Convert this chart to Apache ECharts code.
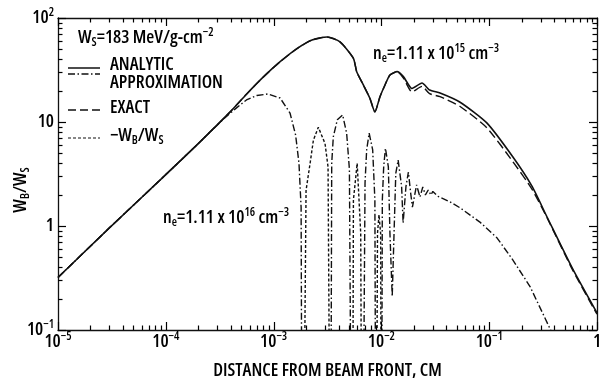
<!DOCTYPE html>
<html><head><meta charset="utf-8">
<script src="https://cdn.jsdelivr.net/npm/echarts@6/dist/echarts.min.js"></script>
<style>html,body{margin:0;padding:0;background:#fff}#c{width:602px;height:385px}</style>
</head><body><div id="c"></div>
<script>
// ---- tick labels ----
const xTickValues = [1e-5, 1e-4, 1e-3, 1e-2, 1e-1, 1];
const xTickLabels = ['{b|10}{s|−5}', '{b|10}{s|−4}', '{b|10}{s|−3}', '{b|10}{s|−2}', '{b|10}{s|−1}', '{b|1}'];
const yTickValues = [0.1, 1, 10, 100];
const yTickLabels = ['{b|10}{s|−1}', '{b|1}', '{b|10}', '{b|10}{s|2}'];

// ---- n_e = 1.11e15 : analytic approximation (solid) ----
const xAnalytic15 = [1e-5, 3e-5, 1e-4, 2e-4, 3.95e-4, 5.6e-4, 8e-4, 1.15e-3, 1.66e-3, 2.27e-3, 3.13e-3, 4.13e-3, 5.5e-3, 5.9e-3, 6.8e-3, 7.8e-3, 8.7e-3, 9.7e-3, 1.08e-2, 1.2e-2, 1.4e-2, 1.6e-2, 1.92e-2, 2.38e-2, 2.8e-2, 3.5e-2, 5.37e-2, 9.5e-2, 0.166, 0.25, 0.344, 0.6, 1];
const yAnalytic15 = [0.32, 0.96, 3.12, 6.2, 12.5, 18.5, 27, 38, 51, 61.4, 65.6, 59, 41, 30.4, 22.7, 17, 12.5, 17.5, 22.7, 28.3, 30.5, 27.3, 21, 23.7, 20.3, 19, 15.5, 9.8, 4.6, 2.4, 1.22, 0.38, 0.146];

// ---- n_e = 1.11e15 : exact (long dash) ----
const xExact15 = [1e-5, 3e-5, 1e-4, 2e-4, 3.95e-4, 5.6e-4, 8e-4, 1.15e-3, 1.66e-3, 2.27e-3, 3.13e-3, 4.13e-3, 5.5e-3, 5.9e-3, 6.8e-3, 7.8e-3, 8.7e-3, 9.7e-3, 1.08e-2, 1.2e-2, 1.4e-2, 1.6e-2, 1.92e-2, 2.38e-2, 2.8e-2, 3.5e-2, 5.37e-2, 9.5e-2, 0.166, 0.25, 0.344, 0.6, 1];
const yExact15 = [0.32, 0.96, 3.12, 6.2, 12.5, 18.5, 27, 38, 51, 61.4, 65.6, 59, 41, 30.4, 22.7, 17, 12.5, 17.5, 22.7, 28.3, 30.5, 26.5, 19.5, 22, 18.7, 17.5, 14.1, 8.8, 4.15, 2.25, 1.2, 0.37, 0.142];

// ---- n_e = 1.11e16 : analytic approximation, positive lobes (dash-dot) ----
const xPos16 = [1e-5, 3e-5, 1e-4, 2e-4, 3.5e-4, 4.5e-4, 5.6e-4, 7e-4, 8.9e-4, 1.15e-3, 1.42e-3, 1.6e-3, 1.72e-3, 1.8e-3, 1.84e-3,
  2.5e-3,
  3.38e-3, 3.46e-3, 3.58e-3, 3.9e-3, 4.37e-3, 4.76e-3, 5.05e-3, 5.3e-3,
  6e-3,
  6.7e-3, 7.05e-3, 7.3e-3, 7.7e-3, 8.3e-3, 8.7e-3, 8.9e-3,
  9.5e-3,
  1.0e-2, 1.02e-2, 1.05e-2, 1.09e-2, 1.16e-2, 1.2e-2, 1.26e-2, 1.31e-2, 1.36e-2, 1.43e-2, 1.54e-2, 1.59e-2, 1.69e-2, 1.78e-2, 1.87e-2, 1.94e-2, 2.12e-2, 2.28e-2, 2.42e-2, 2.56e-2, 2.72e-2, 2.88e-2, 3.0e-2, 3.35e-2, 4.36e-2, 5.4e-2, 8.2e-2, 0.118, 0.166, 0.24, 0.38, 0.5];
const yPos16 = [0.32, 0.96, 3.12, 6.2, 10.9, 13.6, 16.3, 18, 18.6, 17, 12.2, 7.5, 4.0, 1.5, 0.001,
  null,
  0.001, 4.0, 7.2, 10.5, 11.7, 7.8, 3.5, 0.001,
  null,
  0.001, 2.6, 5.4, 7.8, 5.4, 1.78, 0.001,
  null,
  0.001, 1.78, 3.7, 5.6, 3.7, 0.85, 0.21, 0.85, 3.2, 4.3, 2.4, 1.07, 2.4, 3.3, 2.06, 1.52, 2.48, 1.9, 2.37, 1.99, 2.22, 1.99, 2.15, 1.93, 1.7, 1.49, 1.09, 0.77, 0.47, 0.26, 0.095, 0.04];

// ---- n_e = 1.11e16 : -W_B/W_S, negative lobes (short dash) ----
const xNeg16 = [1.88e-3, 2.0e-3, 2.18e-3, 2.34e-3, 2.6e-3, 3.0e-3, 3.2e-3, 3.36e-3,
  4.5e-3,
  5.4e-3, 5.5e-3, 5.96e-3, 6.43e-3, 6.6e-3,
  8e-3,
  8.95e-3, 9.2e-3, 9.5e-3, 9.84e-3, 1.0e-2];
const yNeg16 = [0.001, 2.2, 4.0, 6.7, 8.9, 6.2, 3.7, 0.001,
  null,
  0.001, 1.78, 4.0, 0.85, 0.001,
  null,
  0.001, 0.85, 1.28, 0.85, 0.001];

function zip(xs, ys) { return xs.map((x, i) => [x, ys[i]]); }

const FW = '600';
// pick the most condensed installed face (reference uses a condensed grotesque)
function pickFont() {
  const ctx = document.createElement('canvas').getContext('2d');
  const cands = [
    { style: 'normal', family: "'Liberation Sans Narrow'" },
    { style: 'normal', family: "'DejaVu Sans Condensed'" },
    { style: 'condensed', family: "'DejaVu Sans'" },
    { style: 'condensed', family: "'Open Sans'" },
    { style: 'condensed', family: "'Noto Sans'" },
    { style: 'condensed', family: "Roboto" },
    { style: 'normal', family: "'Liberation Sans'" }
  ];
  let best = null;
  for (const cd of cands) {
    ctx.font = '10px monospace';
    ctx.font = cd.style + ' ' + FW + ' 100px ' + cd.family;
    if (ctx.font.indexOf('monospace') >= 0) continue;
    const w = ctx.measureText('APPROXIMATION').width;
    const capH = ctx.measureText('H').actualBoundingBoxAscent || 72;
    const ratio = w / capH;
    if (!best || ratio < best.ratio - 0.05) best = { ...cd, ratio, w, capH };
  }
  let fs = 113 / best.w * 100;
  best.size = Math.round(fs * 10) / 10;
  return best;
}
const PF = pickFont();
const FF = PF.family + ", sans-serif";
const FSTY = PF.style;
const FS = PF.size;
const FSS = Math.round(FS * 0.66);

const richBase = {
  b: { fontFamily: FF, fontStyle: FSTY, fontWeight: FW, fontSize: FS, lineHeight: 22, color: '#000', fill: '#000', verticalAlign: 'middle' },
  s: { fontFamily: FF, fontStyle: FSTY, fontWeight: FW, fontSize: FSS, lineHeight: 11, color: '#000', fill: '#000', verticalAlign: 'top' },
  u: { fontFamily: FF, fontStyle: FSTY, fontWeight: FW, fontSize: FSS, lineHeight: 11, color: '#000', fill: '#000', verticalAlign: 'bottom' }
};

function fmt(values, labels) {
  return function (v) {
    for (let i = 0; i < values.length; i++) {
      if (Math.abs(Math.log10(values[i]) - Math.log10(v)) < 1e-6) return labels[i];
    }
    return '';
  };
}

const lineCol = '#111';
const axisLineStyle = { color: lineCol, width: 1.3 };
const G = { left: 58, right: 5, top: 18, bottom: 55 };

const chart = echarts.init(document.getElementById('c'), null, { renderer: 'canvas' });

function logAxis(pos, lo, hi, extra) {
  return Object.assign({ type: 'log', logBase: 10, min: lo, max: hi, position: pos,
    axisLine: { show: true, onZero: false, lineStyle: axisLineStyle },
    axisTick: { show: false }, minorTick: { show: false },
    splitLine: { show: false }, minorSplitLine: { show: false }, axisLabel: { show: false } }, extra || {});
}

const textGraphics = [
  { type: 'text', x: 21, y: 190, rotation: Math.PI / 2, style: { text: '{b|W}{u|B}{b|/W}{u|S}', rich: richBase, fill: '#000', align: 'center', verticalAlign: 'middle' } },
  { type: 'text', left: 78, top: 27, style: { text: '{b|W}{u|S}{b|=183 MeV/g-cm}{s|−2}', rich: richBase, fill: '#000' } },
  { type: 'line', shape: { x1: 68, y1: 68, x2: 100, y2: 68 }, style: { stroke: lineCol, lineWidth: 1.5 } },
  { type: 'line', shape: { x1: 68, y1: 74, x2: 100, y2: 74 }, style: { stroke: lineCol, lineWidth: 1.4, lineDash: [7, 2.5, 1.5, 2.5] } },
  { type: 'text', left: 110, top: 56, style: { text: '{b|ANALYTIC}', rich: richBase, fill: '#000' } },
  { type: 'text', left: 110, top: 73.5, style: { text: '{b|APPROXIMATION}', rich: richBase, fill: '#000' } },
  { type: 'line', shape: { x1: 68, y1: 110, x2: 100, y2: 110 }, style: { stroke: lineCol, lineWidth: 1.4, lineDash: [8, 4] } },
  { type: 'text', left: 110, top: 99, style: { text: '{b|EXACT}', rich: richBase, fill: '#000' } },
  { type: 'line', shape: { x1: 68, y1: 138, x2: 100, y2: 138 }, style: { stroke: lineCol, lineWidth: 1.2, lineDash: [3, 2] } },
  { type: 'text', left: 110, top: 127, style: { text: '{b|−W}{u|B}{b|/W}{u|S}', rich: richBase, fill: '#000' } },
  { type: 'text', left: 373, top: 43, style: { text: '{b|n}{u|e}{b|=1.11 x 10}{s|15}{b| cm}{s|−3}', rich: richBase, fill: '#000' } },
  { type: 'text', left: 163, top: 207, style: { text: '{b|n}{u|e}{b|=1.11 x 10}{s|16}{b| cm}{s|−3}', rich: richBase, fill: '#000' } }
];

// axis tick marks (major + log minor) at decade / 2..9 positions
function decadeValues(d0, d1) {
  const out = [];
  for (let d = d0; d < d1; d++) for (let k = 1; k <= 9; k++) out.push({ v: k * Math.pow(10, d), major: k === 1 });
  out.push({ v: Math.pow(10, d1), major: true });
  return out;
}
function xPix(v) {
  let p;
  try { p = chart.convertToPixel({ xAxisIndex: 0 }, v); } catch (e) { p = undefined; }
  if (typeof p !== 'number' || !isFinite(p)) {
    p = G.left + (Math.log10(v) + 5) / 5 * (602 - G.left - G.right);
  }
  return p;
}
function yPix(v) {
  let p;
  try { p = chart.convertToPixel({ yAxisIndex: 0 }, v); } catch (e) { p = undefined; }
  if (typeof p !== 'number' || !isFinite(p)) {
    p = G.top + (2 - Math.log10(v)) / 3 * (385 - G.top - G.bottom);
  }
  return p;
}
function buildTicks() {
  const out = [];
  const X0 = xPix(1e-5), X1 = xPix(1), Y0 = yPix(0.1), Y1 = yPix(100);
  const push = (x1, y1, x2, y2) => out.push({ type: 'line', shape: { x1: x1, y1: y1, x2: x2, y2: y2 }, style: { stroke: '#000', lineWidth: 1.2 }, z: 100 });
  decadeValues(-5, 0).forEach(t => {
    const px = Math.round(xPix(t.v)) + 0.5;
    const len = t.major ? 8 : 4.5;
    push(px, Y0, px, Y0 - len);
    push(px, Y1, px, Y1 + len);
  });
  decadeValues(-1, 2).forEach(t => {
    const py = Math.round(yPix(t.v)) + 0.5;
    const len = t.major ? 8 : 4.5;
    push(X0, py, X0 + len, py);
    push(X1, py, X1 - len, py);
  });
  return out;
}

function makeOption(graphics) {
  return {
    backgroundColor: '#fff',
    animation: false,
    grid: { left: G.left, right: G.right, top: G.top, bottom: G.bottom, containLabel: false, outerBoundsMode: 'none' },
    xAxis: [
      logAxis('bottom', 1e-5, 1, {
        axisLabel: { show: true, margin: 1, showMinLabel: true, showMaxLabel: true, formatter: fmt(xTickValues, xTickLabels), rich: richBase },
        name: 'DISTANCE FROM BEAM FRONT, CM', nameLocation: 'middle', nameGap: 32, nameMoveOverlap: false,
        nameTextStyle: { fontFamily: FF, fontStyle: FSTY, fontWeight: FW, fontSize: FS, color: '#000' } }),
      logAxis('top', 1e-5, 1)
    ],
    yAxis: [
      logAxis('left', 0.1, 100, {
        axisLabel: { show: true, margin: 4, showMinLabel: true, showMaxLabel: true, formatter: fmt(yTickValues, yTickLabels), rich: richBase } }),
      logAxis('right', 0.1, 100)
    ],
    series: [
      { name: 'analytic15', type: 'line', xAxisIndex: 0, yAxisIndex: 0, data: zip(xAnalytic15, yAnalytic15),
        showSymbol: false, symbol: 'none', clip: true, smooth: 0.2,
        lineStyle: { color: lineCol, width: 1.6, type: 'solid' } },
      { name: 'exact15', type: 'line', xAxisIndex: 0, yAxisIndex: 0, data: zip(xExact15, yExact15),
        showSymbol: false, symbol: 'none', clip: true, smooth: 0.2,
        lineStyle: { color: lineCol, width: 1.4, type: [9, 4] } },
      { name: 'pos16', type: 'line', xAxisIndex: 0, yAxisIndex: 0, data: zip(xPos16, yPos16),
        showSymbol: false, symbol: 'none', clip: true, connectNulls: false,
        lineStyle: { color: lineCol, width: 1.4, type: [7, 2.5, 1.5, 2.5] } },
      { name: 'neg16', type: 'line', xAxisIndex: 0, yAxisIndex: 0, data: zip(xNeg16, yNeg16),
        showSymbol: false, symbol: 'none', clip: true, connectNulls: false,
        lineStyle: { color: lineCol, width: 1.4, type: [3, 2] } }
    ],
    graphic: graphics
  };
}

chart.setOption(makeOption(textGraphics));
let ticks = [];
try { ticks = buildTicks(); } catch (e) { ticks = []; }
chart.setOption(makeOption(textGraphics.concat(ticks)), true);
</script>
</body></html>
